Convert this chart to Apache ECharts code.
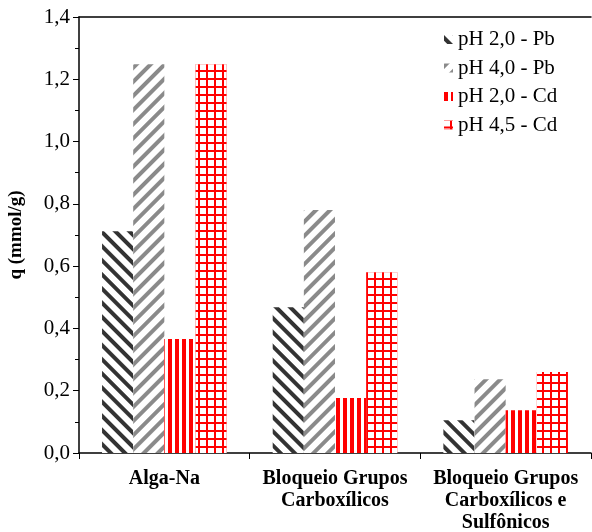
<!DOCTYPE html>
<html><head><meta charset="utf-8">
<script src="https://cdn.jsdelivr.net/npm/echarts@6/dist/echarts.min.js"></script>
<style>html,body{margin:0;padding:0;background:#fff}#c{width:592px;height:532px}</style>
</head><body><div id="c"></div>
<script>
const categories = ["Alga-Na", "Bloqueio Grupos\nCarboxílicos", "Bloqueio Grupos\nCarboxílicos e\nSulfônicos"];
const seriesNames = ["pH 2,0 - Pb", "pH 4,0 - Pb", "pH 2,0 - Cd", "pH 4,5 - Cd"];
const pb20 = [0.712, 0.468, 0.105];
const pb40 = [1.248, 0.78, 0.237];
const cd20 = [0.366, 0.177, 0.137];
const cd45 = [1.248, 0.58, 0.26];
const yTicks = [0, 0.2, 0.4, 0.6, 0.8, 1.0, 1.2, 1.4];

const font = '"Liberation Serif","Times New Roman",serif';
const decals = [
  {symbol:'rect', color:'#333333', dashArrayX:[1,0], dashArrayY:[4,6], rotation:Math.PI/4},
  {symbol:'rect', color:'#8a8a8a', dashArrayX:[1,0], dashArrayY:[4,6], rotation:-Math.PI/4},
  {symbol:'rect', color:'#ff0000', dashArrayX:[4,3], dashArrayY:[1,0], rotation:0},
  {symbol:'rect', color:'#ffffff', dashArrayX:[6,2], dashArrayY:[6,2], rotation:0}
];
const bgColors = ['#ffffff', '#ffffff', '#ffffff', '#ff0000'];
const data = [pb20, pb40, cd20, cd45];

const chart = echarts.init(document.getElementById('c'), null, {renderer:'canvas'});
chart.setOption({
  animation:false,
  backgroundColor:'#fff',
  textStyle:{fontFamily:font},
  grid:{left:79, right:1, top:17, bottom:79, containLabel:false, outerBoundsMode:'none'},
  legend:{
    orient:'vertical', left:439, top:24, itemWidth:9, itemHeight:9, itemGap:7.5, icon:'rect',
    textStyle:{fontFamily:font, fontSize:21, color:'#000'},
    data:seriesNames
  },
  xAxis:[{
    type:'category', data:categories,
    axisLine:{lineStyle:{color:'#000', width:1.5}},
    axisTick:{show:true, inside:false, length:6, lineStyle:{color:'#000'}, alignWithLabel:false},
    axisLabel:{fontFamily:font, fontSize:20, fontWeight:'bold', color:'#000', margin:15, lineHeight:22, interval:0}
  },{
    type:'category', position:'top', data:categories,
    axisLine:{lineStyle:{color:'#000', width:1.5}}, axisTick:{show:false}, axisLabel:{show:false}
  }],
  yAxis:{
    type:'value', min:0, max:1.4, interval:0.2,
    name:'q (mmol/g)', nameLocation:'middle', nameGap:53, nameRotate:90,
    nameTextStyle:{fontFamily:font, fontSize:19, fontWeight:'bold', color:'#000'},
    axisLine:{show:true, lineStyle:{color:'#000', width:1.5}},
    axisTick:{show:true, inside:false, length:6, lineStyle:{color:'#000'}},
    minorTick:{show:true, splitNumber:2, length:4, lineStyle:{color:'#000'}},
    splitLine:{show:false},
    axisLabel:{fontFamily:font, fontSize:21, color:'#000', margin:9,
      formatter:v => v.toFixed(1).replace('.', ',')}
  },
  series: seriesNames.map((n,i)=>({
    name:n, type:'bar', data:data[i], barGap:'0%', barCategoryGap:'27%',
    itemStyle:{color:bgColors[i], decal:decals[i]}
  }))
});
</script></body></html>
